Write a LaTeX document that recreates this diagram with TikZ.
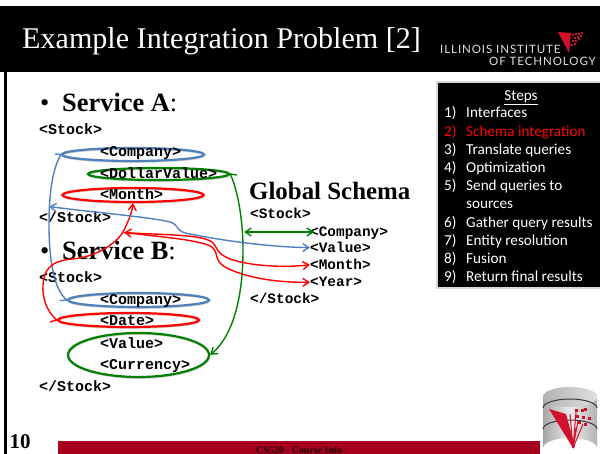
\documentclass[tikz,border=0pt]{standalone}
\usepackage{fontspec}
\setmainfont{Liberation Serif}
\setmonofont{Liberation Mono}
\newfontfamily\stepfont{Carlito}
\newfontfamily\logofont[LetterSpace=8]{Lato}
\usetikzlibrary{arrows.meta,shapes.geometric,shadows}
\definecolor{iitblue}{HTML}{4F81BD}
\definecolor{iitgreen}{HTML}{008000}
\definecolor{iitred}{HTML}{FF0000}
\definecolor{iitbar}{HTML}{A6001E}
\definecolor{iitlogo}{HTML}{D0112B}
\tikzset{
  xmltext/.style={anchor=mid west,inner sep=0pt,yshift=-2.5pt,font=\fontsize{15}{15}\selectfont\ttfamily\bfseries,text=black},
  xmlglobal/.style={xmltext,font=\fontsize{14.4}{15}\selectfont\ttfamily\bfseries},
  headtext/.style={anchor=mid west,inner sep=0pt,yshift=-7pt,font=\fontsize{26.4}{26}\selectfont\bfseries,text=black},
  bulletmark/.style={anchor=mid west,inner sep=0pt,yshift=-7pt,font=\fontsize{26.4}{26}\selectfont,text=black},
  steptext/.style={anchor=mid west,inner sep=0pt,yshift=-3pt,font=\fontsize{15.2}{15}\stepfont,text=white},
  logotext/.style={anchor=mid west,inner sep=0pt,yshift=-3pt,font=\fontsize{11.5}{12}\logofont,text=white!88!black},
  oval/.style={ellipse,draw=#1,line width=2.2pt,inner sep=0pt,general shadow={shadow xshift=0.5pt,shadow yshift=-1pt,draw=black!20,fill=none,line width=1.6pt}},
  link/.style={draw=#1,line width=1.4pt,fill=none},
  >={Straight Barb[length=6pt,width=8pt,line width=1.4pt]},
}
\begin{document}
\begin{tikzpicture}[x=1pt,y=-1pt]
\useasboundingbox (0,0) rectangle (600,454);
\fill[white] (0,0) rectangle (600,454);
% header
\fill[black] (0,6) rectangle (600,72);
\fill[black] (4,72) rectangle (6.7,454);
\node[anchor=mid west,inner sep=0pt,yshift=-8pt,text=white,font=\fontsize{30.1}{30}\selectfont] (title) at (22,38) {Example Integration Problem [2]};
\node[logotext] (logoa) at (440,48) {ILLINOIS INSTITUTE};
\node[logotext] (logob) at (489,60.5) {OF TECHNOLOGY};
\fill[iitlogo] (558,32) -- (571,33) -- (569,53) -- cycle;
\foreach \a/\b in {572/34,575/33,578/33,581/32,574/37,577/36,580/35,572/40,575/40,578/38,571/44,574/43}{\fill[iitlogo] (\a,\b) rectangle ++(1.6,1.6);}
% ovals
\node[oval=iitblue,minimum width=142pt,minimum height=13pt] (ovcompa) at (133,154.5) {};
\node[oval=iitgreen,minimum width=141pt,minimum height=12pt] (ovdollar) at (158.5,174) {};
\node[oval=iitred,minimum width=141pt,minimum height=14pt] (ovmontha) at (133,195) {};
\node[oval=iitblue,minimum width=141pt,minimum height=14pt] (ovcompb) at (138.5,300) {};
\node[oval=iitred,minimum width=141pt,minimum height=14pt] (ovdate) at (128.5,320) {};
\node[oval=iitgreen,minimum width=141pt,minimum height=44pt] (ovvalue) at (138.5,355) {};
% service A
\node[bulletmark] (bulleta) at (40,102) {•};
\node[headtext] (servicea) at (62,102) {Service A\normalfont:};
\node[xmltext] (stocka) at (39,129.5) {<Stock>};
\node[xmltext] (compa) at (100,152) {<Company>};
\node[xmltext] (dollar) at (100,174) {<DollarValue>};
\node[xmltext] (montha) at (100,195) {<Month>};
\node[xmltext] (stockaend) at (39,217.5) {</Stock>};
% service B
\node[bulletmark] (bulletb) at (40,250) {•};
\node[headtext] (serviceb) at (62,250) {Service B\normalfont:};
\node[xmltext] (stockb) at (39,278) {<Stock>};
\node[xmltext] (compb) at (100,300) {<Company>};
\node[xmltext] (date) at (100,321) {<Date>};
\node[xmltext] (valueb) at (100,344) {<Value>};
\node[xmltext] (currency) at (100,365) {<Currency>};
\node[xmltext] (stockbend) at (39,387) {</Stock>};
% global
\node[headtext,yshift=0.5pt,font=\fontsize{24.9}{25}\selectfont\bfseries] (global) at (249,190.5) {Global Schema};
\node[xmlglobal] (stockg) at (250,214) {<Stock>};
\node[xmlglobal] (compg) at (310,232) {<Company>};
\node[xmlglobal] (valueg) at (310,248) {<Value>};
\node[xmlglobal] (monthg) at (310,265) {<Month>};
\node[xmlglobal] (yearg) at (310,282) {<Year>};
\node[xmlglobal] (stockgend) at (250,299) {</Stock>};
% free ends
\coordinate (bluetaila) at (55,154);
\coordinate (bluetailb) at (60,300.6);
\coordinate (greentail) at (237,175);
\coordinate (redtail) at (50,322);
\coordinate (blueleft) at (49,206.5);
\coordinate (redmeet) at (124,232.5);
\coordinate (greenl) at (244,232);
\coordinate (greenr) at (314,232);
% blue link between companies
\draw[link=iitblue] (bluetaila) -- (ovcompa.west)
  .. controls (52,170) and (49,195) .. (49,225) .. controls (49,260) and (54,290) .. (ovcompb.west) -- (bluetailb);
% green link
\draw[link=iitgreen,->] (greentail) -- (ovdollar.east)
  .. controls (236,185) and (243,215) .. (243,250) .. controls (243,300) and (232,337) .. (ovvalue.east);
% red link date to month
\draw[link=iitred,->] (redtail) -- (ovdate.west) .. controls (47,312) and (42,298) .. (43,285)
  .. controls (44,270) and (50,261) .. (72,259) .. controls (95,257) and (115,245) .. (123,232)
  .. controls (128,222) and (132,213) .. (ovmontha.south);
% blue value
\draw[link=iitblue,<->] (blueleft) .. controls (90,212) and (150,217) .. (170,222)
  .. controls (180,225) and (175,232) .. (190,234) .. controls (225,241) and (270,247) .. (valueg.west);
% global green
\draw[link=iitgreen,<->] (greenl) -- (greenr);
% red to month, year
\draw[link=iitred,<->] (redmeet) .. controls (160,235) and (205,234) .. (213,243)
  .. controls (219,250) and (216,253) .. (230,259) .. controls (250,266) and (285,268) .. (monthg.west);
\draw[link=iitred,->] (redmeet) .. controls (160,237) and (205,240) .. (213,248)
  .. controls (219,255) and (214,260) .. (225,267) .. controls (245,278) and (280,283) .. (yearg.west);
% steps
\fill[gray!30] (436,81.5) rectangle (600,289.5);
\fill[black] (438,83) rectangle (600,287.5);
\node[steptext,anchor=mid] (steps) at (521,95) {\underline{Steps}};
\foreach \n/\t/\y/\c in {1/Interfaces/112.5/white,2/Schema integration/131/iitred,3/Translate queries/149/white,4/Optimization/167/white,5/Send queries to/185.5/white,6/Gather query results/222/white,7/Entity resolution/240/white,8/Fusion/258.5/white,9/Return final results/276.5/white}{
  \node[steptext,text=\c] (num\n) at (444,\y) {\n)};
  \node[steptext,text=\c] (item\n) at (466,\y) {\t};
}
\node[steptext] (itemb) at (466,203.5) {sources};
% footer
\fill[iitbar] (58,441) rectangle (540,454);
\node[anchor=base west,inner sep=0pt,text=black!80!iitbar,font=\fontsize{9.9}{10}\selectfont\bfseries] (foot) at (256,453) {CS520 - Course Info};
\node[anchor=mid west,inner sep=0pt,yshift=-5pt,font=\fontsize{21}{21}\selectfont\bfseries] (pageno) at (9.5,441) {10};
% database icon
\shade[left color=gray!70,right color=gray!60,middle color=gray!15] (543,397) arc[start angle=180,end angle=360,x radius=27,y radius=10] -- (597,448) arc[start angle=0,end angle=-180,x radius=27,y radius=10] -- cycle;
\shade[left color=gray!60,right color=gray!25] (570,397) ellipse[x radius=27,y radius=10];
\draw[gray!45!black,line width=1pt] (543,408) arc[start angle=180,end angle=360,x radius=27,y radius=9];
\draw[gray!45!black,line width=1pt] (543,429) arc[start angle=180,end angle=360,x radius=27,y radius=9];
\fill[iitlogo] (549,409) -- (566,414) -- (575,447) -- (573,448) -- cycle;
\foreach \a/\b in {570/414,576/412,578/421,583/424,576/428}{\draw[iitlogo,line width=1pt] (573,448) -- (\a,\b);}
\foreach \a/\b in {575/409,581/409,584/408,576/415,582/416,588/417,578/421,584/423}{\fill[iitlogo] (\a,\b) rectangle ++(2.6,2.6);}
\end{tikzpicture}
\end{document}
